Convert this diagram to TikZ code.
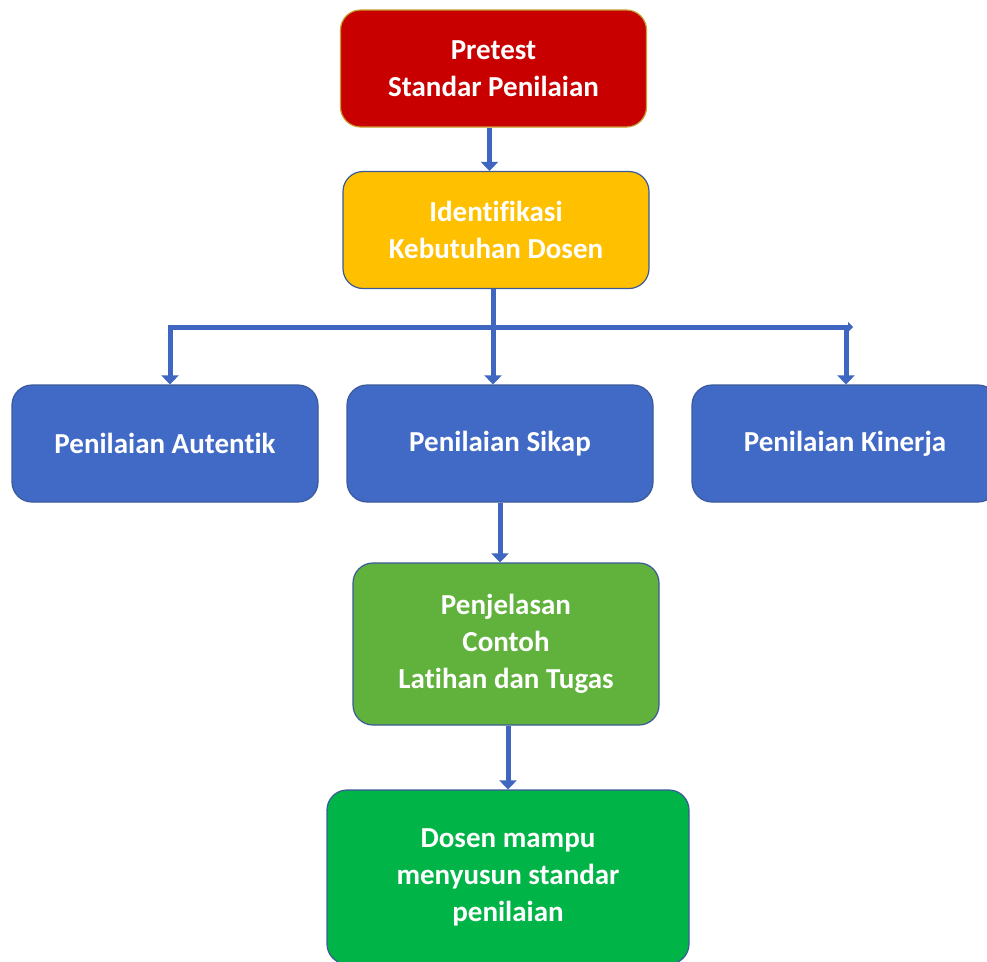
\documentclass[tikz,border=0pt]{standalone}
\usepackage{fontspec}
\setmainfont{Carlito}[Ligatures={NoCommon}]
\usetikzlibrary{arrows.meta}
\definecolor{boxred}{HTML}{C80000}
\definecolor{boxyellow}{HTML}{FFC000}
\definecolor{boxblue}{HTML}{4169C6}
\definecolor{boxlime}{HTML}{60B23C}
\definecolor{boxgreen}{HTML}{00B447}
\definecolor{boxedge}{HTML}{3A5A9A}
\definecolor{redge}{HTML}{C8A030}
\definecolor{arrowblue}{HTML}{3F66C0}

\begin{document}
\begin{tikzpicture}[x=1pt,y=-1pt,
	box/.style={rounded corners=20pt, draw=boxedge, line width=1.2pt, text=white, align=center,
		minimum width=306pt, minimum height=117pt, inner sep=0pt,
		font=\fontsize{29}{37}\selectfont\bfseries},
	blockarrow/.style={draw=arrowblue, line width=5pt, -{Triangle[width=17pt,length=9pt]}},
	barline/.style={draw=arrowblue, line width=5pt, -{Triangle[width=10pt,length=5pt]}}]
	%%%%% START %%%%%
	
	\path[use as bounding box, fill=white] (0,0) rectangle (987,961);
	
	\node[box, fill=boxred, draw=redge] (pretest) at (493.5,68.5) {Pretest\\Standar Penilaian};
	\node[box, fill=boxyellow] (ident) at (496,230) {Identifikasi\\Kebutuhan Dosen};
	
	\node[box, fill=boxblue] (autentik) at (165,443.5) {Penilaian Autentik};
	\node[box, fill=boxblue] (sikap) at (500,443.5) {Penilaian Sikap};
	\node[box, fill=boxblue] (kinerja) at (845,443.5) {Penilaian Kinerja};
	
	\node[box, fill=boxlime, minimum height=162pt] (latihan) at (506,644) {Penjelasan\\Contoh\\Latihan dan Tugas};
	\node[box, fill=boxgreen, minimum width=362pt, minimum height=174pt] (dosen) at (508,877) {Dosen mampu\\menyusun standar\\penilaian};
	
	% branching bar under Identifikasi
	\coordinate (barL) at ([xshift=5pt]autentik.north |- 0,327);
	\coordinate (barR) at ([xshift=8pt]kinerja.north |- 0,327);
	\draw[barline] ([xshift=-2.5pt]barL) -- (barR);
	
	\draw[blockarrow] ([xshift=-4pt]pretest.south) -- ([xshift=-4pt]pretest.south |- ident.north);
	\draw[blockarrow] ([xshift=-3pt]ident.south) -- ([xshift=-3pt]ident.south |- sikap.north);
	\draw[blockarrow] (barL) -- (barL |- autentik.north);
	\draw[blockarrow] ([xshift=-7pt]barR) -- ([xshift=-7pt]barR |- kinerja.north);
	\draw[blockarrow] (sikap.south) -- (sikap.south |- latihan.north);
	\draw[blockarrow] (dosen.north |- latihan.south) -- (dosen.north);
	
	%%%%% END %%%%%
\end{tikzpicture}
\end{document}
